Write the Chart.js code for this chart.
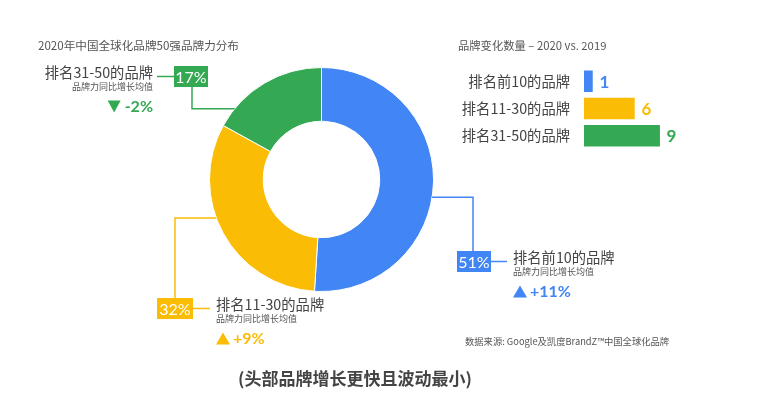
<!DOCTYPE html>
<html>
<head>
<meta charset="utf-8">
<script src="https://cdn.jsdelivr.net/npm/chart.js@4"></script>
<style>
  html, body { margin: 0; padding: 0; background: #fff; }
  #wrap { position: relative; width: 760px; height: 396px; overflow: hidden; font-family: "Noto Sans CJK SC", "Noto Sans", sans-serif; }
  .txt { position: absolute; white-space: nowrap; color: #555; }
  #donutChart { position: absolute; left: 0; top: 0; }
  #barChart { position: absolute; left: 440px; top: 53px; }
</style>
</head>
<body>
<div id="wrap">
  <canvas id="donutChart" width="760" height="396"></canvas>
  <canvas id="barChart" width="320" height="111"></canvas>
  <div class="txt" style="left:38px;top:37px;font-size:11.6px;line-height:16px;">2020年中国全球化品牌50强品牌力分布</div>
  <div class="txt" style="left:458px;top:37px;font-size:11.3px;line-height:16px;">品牌变化数量 – 2020 vs. 2019</div>
  <div class="txt" style="left:465px;top:334px;font-size:9.3px;line-height:14px;">数据来源: Google及凯度BrandZ™中国全球化品牌</div>
  <div class="txt" style="left:0;width:710px;text-align:center;top:367px;font-size:17px;line-height:22px;font-weight:bold;color:#444;">(头部品牌增长更快且波动最小)</div>
</div>
<script>
const segments = ['排名前10的品牌', '排名11-30的品牌', '排名31-50的品牌'];
const shares = [51, 32, 17];
const growth = [11, 9, -2];
const changeCounts = [1, 6, 9];
const subLabel = '品牌力同比增长均值';
const colors = ['#4285F4', '#FBBC05', '#34A853'];

// where each leader line leaves the ring and where its box/text sit
const callouts = [
  { frac: 0.54, elbowX: 473, box: { x: 457, y: 251, w: 34, h: 21 }, from: 'top', textX: 513, align: 'left' },
  { frac: 0.575, elbowX: 175, box: { x: 157, y: 298, w: 36, h: 21 }, from: 'top', textX: 216, align: 'left' },
  { frac: 0.17, elbowX: 192, box: { x: 174, y: 66, w: 34, h: 21 }, from: 'bottom', textX: 153, align: 'right' }
];

const calloutPlugin = {
  id: 'callouts',
  afterDraw(chart) {
    const c = chart.ctx;
    const arcs = chart.getDatasetMeta(0).data;
    c.save();
    arcs.forEach((arc, i) => {
      const co = callouts[i];
      const col = colors[i];
      const a = arc.startAngle + co.frac * (arc.endAngle - arc.startAngle);
      const px = arc.x + Math.cos(a) * arc.outerRadius;
      const py = arc.y + Math.sin(a) * arc.outerRadius;
      const b = co.box;
      const endY = co.from === 'top' ? b.y : b.y + b.h;
      c.strokeStyle = col;
      c.lineWidth = 1.5;
      c.beginPath();
      c.moveTo(px, py);
      c.lineTo(co.elbowX, py);
      c.lineTo(co.elbowX, endY);
      c.stroke();

      // box with share
      c.fillStyle = col;
      c.fillRect(b.x, b.y, b.w, b.h);
      c.fillStyle = '#fff';
      c.font = '16px Lato, "Noto Sans", sans-serif';
      c.textAlign = 'center';
      c.textBaseline = 'middle';
      c.fillText(shares[i] + '%', b.x + b.w / 2, b.y + b.h / 2 + 1);

      // short connector to the text
      const cy = b.y + b.h / 2;
      c.beginPath();
      if (co.align === 'left') {
        c.moveTo(b.x + b.w, cy);
        c.lineTo(co.textX - 6, cy);
      } else {
        c.moveTo(b.x, cy);
        c.lineTo(co.textX + 4, cy);
      }
      c.stroke();

      const ty = cy - 4;
      c.textAlign = co.align;
      c.textBaseline = 'middle';
      c.fillStyle = '#444';
      c.font = '14.3px "Noto Sans CJK SC", sans-serif';
      c.fillText(segments[i], co.textX, ty);
      c.fillStyle = '#555';
      c.font = '9px "Noto Sans CJK SC", sans-serif';
      c.fillText(subLabel, co.textX, ty + 14);

      // growth value with arrow
      const gy = ty + 34;
      const gTxt = (growth[i] > 0 ? '+' : '') + growth[i] + '%';
      c.font = 'bold 16px Lato, "Noto Sans", sans-serif';
      const tw = c.measureText(gTxt).width;
      let triX, txtX;
      if (co.align === 'left') {
        triX = co.textX;
        txtX = co.textX + 17;
        c.textAlign = 'left';
      } else {
        txtX = co.textX;
        triX = co.textX - tw - 17;
        c.textAlign = 'right';
      }
      c.fillStyle = col;
      c.fillText(gTxt, txtX, gy);
      c.beginPath();
      if (growth[i] >= 0) {
        c.moveTo(triX, gy + 6);
        c.lineTo(triX + 14, gy + 6);
        c.lineTo(triX + 7, gy - 6);
      } else {
        c.moveTo(triX, gy - 6);
        c.lineTo(triX + 13, gy - 6);
        c.lineTo(triX + 6.5, gy + 6);
      }
      c.closePath();
      c.fill();
    });
    c.restore();
  }
};

new Chart(document.getElementById('donutChart'), {
  type: 'doughnut',
  data: {
    labels: segments,
    datasets: [{
      data: shares,
      backgroundColor: colors,
      borderColor: '#fff',
      borderWidth: 1
    }]
  },
  options: {
    responsive: false,
    animation: false,
    cutout: '52%',
    layout: { padding: { left: 209, right: 326, top: 67, bottom: 104 } },
    plugins: { legend: { display: false }, tooltip: { enabled: false } }
  },
  plugins: [calloutPlugin]
});

const barValuePlugin = {
  id: 'barValues',
  afterDatasetsDraw(chart) {
    const c = chart.ctx;
    c.save();
    c.font = 'bold 17px Lato, "Noto Sans", sans-serif';
    c.textAlign = 'left';
    c.textBaseline = 'middle';
    chart.getDatasetMeta(0).data.forEach((bar, i) => {
      c.fillStyle = colors[i];
      c.fillText(String(changeCounts[i]), bar.x + 7, bar.y + 1);
    });
    c.restore();
  }
};

new Chart(document.getElementById('barChart'), {
  type: 'bar',
  data: {
    labels: segments,
    datasets: [{
      data: changeCounts,
      backgroundColor: colors,
      barThickness: 21
    }]
  },
  options: {
    indexAxis: 'y',
    responsive: false,
    animation: false,
    layout: { padding: { right: 8, top: 0, bottom: 0 } },
    scales: {
      x: { display: false, min: 0, max: 20 },
      y: {
        grid: { display: false },
        border: { display: false },
        ticks: { color: '#444', padding: 6, font: { size: 14.3, family: '"Noto Sans CJK SC", sans-serif' } },
        afterFit(scale) { scale.width = 144; }
      }
    },
    plugins: { legend: { display: false }, tooltip: { enabled: false } }
  },
  plugins: [barValuePlugin]
});
</script>
</body>
</html>
